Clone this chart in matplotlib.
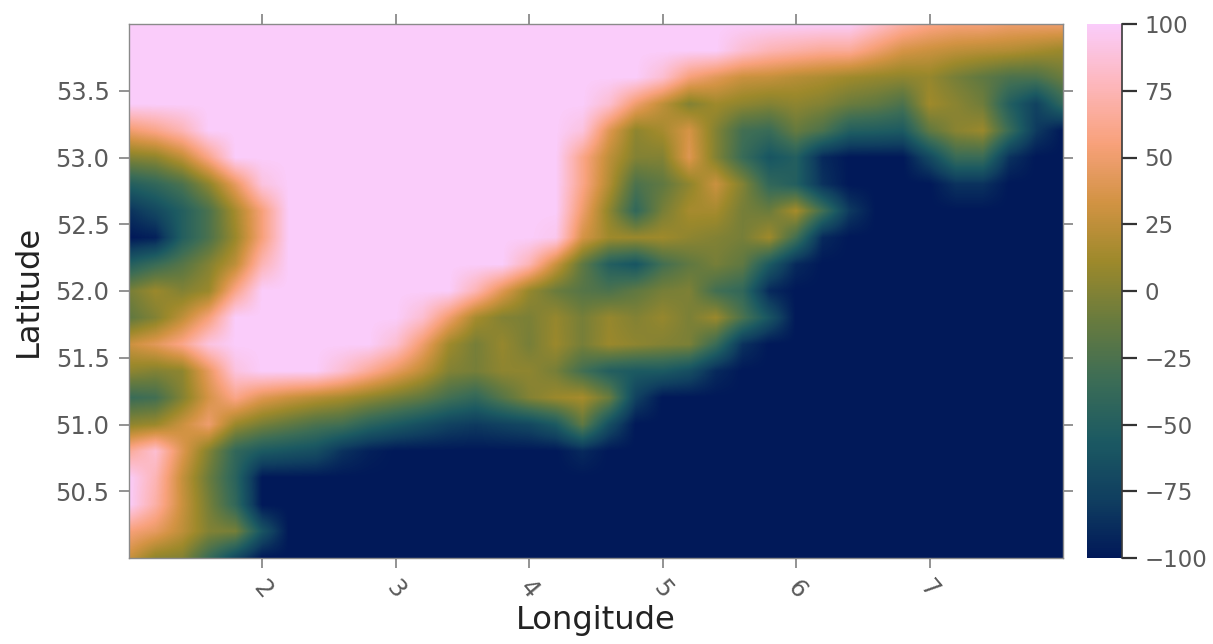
#!/usr/bin/env python3
"""Heat map of a clipped field over longitude / latitude, batlow colours."""

import numpy as np
import matplotlib
matplotlib.use('Agg')
import matplotlib.pyplot as plt
from matplotlib.colors import LinearSegmentedColormap

# Grid
lon_start, lon_end = 1.0, 8.0
lat_start, lat_end = 50.0, 54.0
lon_step = 0.2

# One row per latitude, north to south, lon 1.0 ... 8.0
lat_54_0 = [100]*28 + [85, 70, 60, 55, 55, 50, 50, 50]
lat_53_8 = [100]*22 + [100, 85, 75, 70, 65, 65, 50, 35, 30, 25, 22, 20, 15, 10]
lat_53_6 = [100]*20 + [85, 55, 42, 30, 28, 22, 18, 12, 8, 5, 8, -5, -15, -25, -25, -10]
lat_53_4 = [100]*18 + [85, 50, 25, 0, 12, 5, 0, 5, 0, -10, -15, -25, 12, 3, -8, -50, -75, -40]
lat_53_2 = [50, 60, 75] + [100]*14 + [90, 40, 5, 15, 35, 0, -30, -35, -12, -25, -50, -52, -55, -15, 3, 10, -35, -80, -100]
lat_53_0 = [0, 5, 25, 60] + [100]*13 + [60, 25, 0, 0, 40, 0, -35, -60, -50, -90, -100, -100, -100, -70, -35, -35, -85, -100, -100]
lat_52_8 = [-50, -40, -25, 5, 45, 90] + [100]*11 + [60, 20, -25, -15, 5, 30, 0, -40, -50, -85, -100, -100, -100, -100, -85, -85, -100, -100, -100]
lat_52_6 = [-85, -70, -50, -25, 15, 55] + [100]*11 + [50, 5, -40, -5, 15, 15, -5, -10, 15, -30, -80] + [-100]*8
lat_52_4 = [-100, -95, -50, -25, 10, 55] + [100]*10 + [95, 35, 12, 10, 12, 5, 0, -5, 12, -30, -90] + [-100]*9
lat_52_2 = [-50, -35, -20, 0, 25, 75] + [100]*9 + [75, 30, -15, -50, -60, -30, -15, -5, -15, -55, -90] + [-100]*10
lat_52_0 = [-5, 10, 0, 10, 60] + [100]*8 + [75, 40, 8, -10, -20, -25, -15, -5, -2, -30, -40, -90] + [-100]*11
lat_51_8 = [-15, 0, 25, 55] + [100]*7 + [85, 50, 15, 0, -3, 8, -5, 8, 0, 8, -3, 10, -25, -60] + [-100]*11
lat_51_6 = [30, 42, 60, 90] + [100]*6 + [85, 50, 12, -5, 8, -5, 10, -5, 10, 5, 0, -3, -35, -85] + [-100]*12
lat_51_4 = [5, 0, 5, 45, 90, 100, 100, 100, 85, 65, 45, 25, 0, -5, 5, 5, -5, -30, -50, -55, -55, -65, -90] + [-100]*13
lat_51_2 = [-35, -30, 0, 35, 60, 40, 30, 22, 15, 5, -5, -15, -30, -40, -20, 0, 10, 15, -10, -75] + [-100]*16
lat_51_0 = [5, 10, 30, 50, 10, -5, -15, -25, -30, -45, -55, -65, -75, -80, -75, -70, -55, -15, -65] + [-100]*17
lat_50_8 = [65, 85, 40, 0, -40, -55, -60, -65, -85, -95] + [-100]*7 + [-90] + [-100]*18
lat_50_6 = [100, 75, 28, -10, -45] + [-100]*31
lat_50_4 = [100, 70, 30, -5, -40] + [-100]*31
lat_50_2 = [55, 45, 25, 0, -5, -60] + [-100]*30
lat_50_0 = [30, 5, 0, -35, -70] + [-100]*31

field = np.array([
    lat_54_0, lat_53_8, lat_53_6, lat_53_4, lat_53_2, lat_53_0, lat_52_8,
    lat_52_6, lat_52_4, lat_52_2, lat_52_0, lat_51_8, lat_51_6, lat_51_4,
    lat_51_2, lat_51_0, lat_50_8, lat_50_6, lat_50_4, lat_50_2, lat_50_0,
], dtype=float)

lon_ticks = [2, 3, 4, 5, 6, 7]
lat_ticks = [50.5, 51.0, 51.5, 52.0, 52.5, 53.0, 53.5]
cbar_ticks = [-100, -75, -50, -25, 0, 25, 50, 75, 100]

# Crameri batlow
batlow = LinearSegmentedColormap.from_list('batlow', [
    '#011959', '#103F60', '#1C5A62', '#3C6D56', '#687B3E',
    '#9D892B', '#D29343', '#F8A17B', '#FDB7BC', '#FACCFA',
])

W, H = 1213, 644
GREY = '#5a5a5a'

fig = plt.figure(figsize=(W / 100, H / 100), dpi=100)
ax = fig.add_axes([129 / W, (H - 558) / H, 934 / W, 534 / H])
cax = fig.add_axes([1087 / W, (H - 558) / H, 35 / W, 534 / H])

half = lon_step / 2
im = ax.imshow(field, cmap=batlow, vmin=-100, vmax=100, aspect='auto',
               interpolation='bilinear', origin='upper',
               extent=[lon_start - half, lon_end + half,
                       lat_start - half, lat_end + half])
ax.set_xlim(lon_start, lon_end)
ax.set_ylim(lat_start, lat_end)

ax.set_xticks(lon_ticks)
ax.set_yticks(lat_ticks)
ax.set_yticklabels([f'{v:.1f}' for v in lat_ticks])
ax.tick_params(axis='both', direction='out', length=7, width=1.2, color='#808080',
               labelcolor=GREY, labelsize=17.5, top=True, right=True, pad=7)
ax.tick_params(axis='x', labelrotation=-50, pad=6)
for spine in ax.spines.values():
    spine.set_color('#8a8a8a')
    spine.set_linewidth(1.0)

ax.set_xlabel('Longitude', fontsize=23.2, color='#222222', va='center')
ax.set_ylabel('Latitude', fontsize=23.2, color='#222222', va='center')
ax.xaxis.set_label_coords(0.5, (558 - 621) / 534)
ax.yaxis.set_label_coords((28 - 129) / 934, 0.5)

cbar = fig.colorbar(im, cax=cax, ticks=cbar_ticks)
cbar.outline.set_visible(False)
cax.spines['right'].set_visible(True)
cax.spines['right'].set_color('#3a3a3a')
cax.spines['right'].set_linewidth(1.2)
cax.tick_params(direction='out', length=11, width=1.6, color='#333333',
                labelcolor=GREY, labelsize=16.5, pad=5)

fig.savefig('out.png', dpi=100)
